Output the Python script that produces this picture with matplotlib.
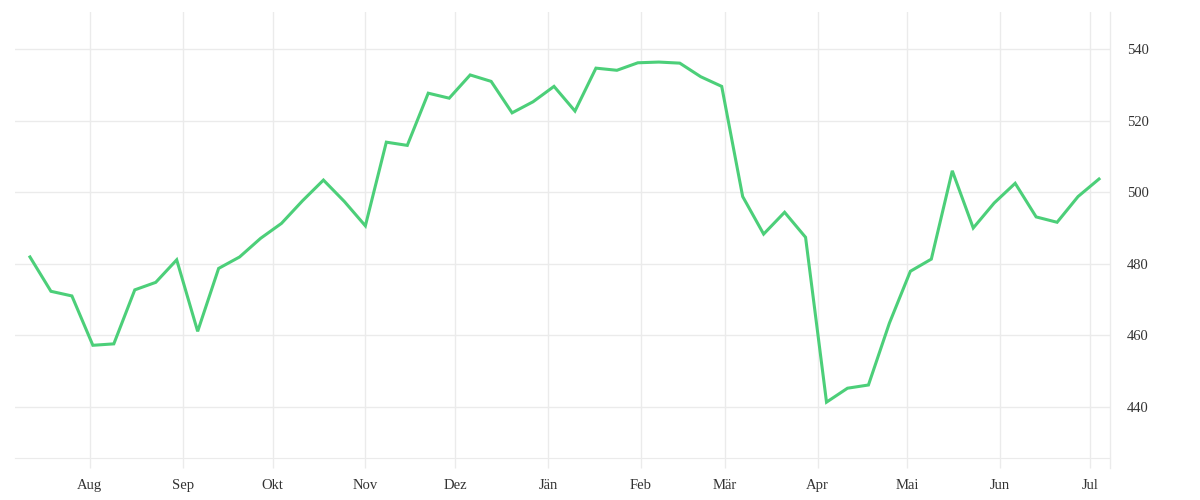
import matplotlib
matplotlib.use('Agg')
import matplotlib.pyplot as plt
import matplotlib.dates as mdates
import numpy as np
import pandas as pd

# weekly values, Jul 2022 - Jul 2023
start = '2022-07-12'
values = [481.9, 472.3, 471.0, 457.2, 457.6, 472.7, 474.8, 481.1, 461.1, 478.7,
          481.9, 487.1, 491.3, 497.6, 503.4, 497.4, 490.6, 514.0, 513.1, 527.7,
          526.3, 532.8, 531.0, 522.2, 525.3, 529.6, 522.7, 534.7, 534.1, 536.2,
          536.4, 536.1, 532.3, 529.6, 498.8, 488.3, 494.4, 487.4, 441.3, 445.2,
          446.1, 463.4, 477.9, 481.3, 506.0, 490.0, 497.0, 502.5, 493.1, 491.6,
          498.8, 503.7]
dates = pd.date_range(start, periods=len(values), freq='7D')

month_ticks = pd.date_range('2022-08-01', '2023-07-01', freq='MS')
month_labels = ['Aug', 'Sep', 'Okt', 'Nov', 'Dez', 'Jän', 'Feb', 'Mär',
                'Apr', 'Mai', 'Jun', 'Jul']
y_ticks = [440, 460, 480, 500, 520, 540]

grid_col = '#ebebeb'
text_col = '#333333'

plt.rcParams['font.family'] = ['Liberation Serif', 'DejaVu Serif']

fig = plt.figure(figsize=(12, 5), dpi=100)
ax = fig.add_axes([0.0125, 0.0834, 0.9125, 0.8926])

ax.plot(dates, values, color='#4ccf79', lw=2.2, solid_joinstyle='miter')

ax.set_xlim(pd.Timestamp('2022-07-07'), pd.Timestamp('2023-07-07 16:00'))
ax.set_ylim(425.6, 550.4)

ax.set_xticks(month_ticks)
ax.set_xticklabels(month_labels)
ax.set_yticks(y_ticks)
ax.yaxis.tick_right()

ax.grid(True, color=grid_col, lw=1)
ax.set_axisbelow(True)
for s in ['top', 'left']:
    ax.spines[s].set_visible(False)
ax.spines['bottom'].set_color(grid_col)
ax.spines['right'].set_visible(False)
# right edge line running down past the axis like the ticks
ax.plot([1, 1], [-0.0224, 1], transform=ax.transAxes, color=grid_col,
        lw=1, clip_on=False)

ax.tick_params(axis='x', length=7.5, width=1, color=grid_col, pad=7.5,
               labelsize=10.5, labelcolor=text_col)
ax.tick_params(axis='y', length=0, pad=12, labelsize=10.5, labelcolor=text_col)
for lbl in ax.get_yticklabels():
    lbl.set_va('center_baseline')

fig.savefig('out.png', dpi=100)
